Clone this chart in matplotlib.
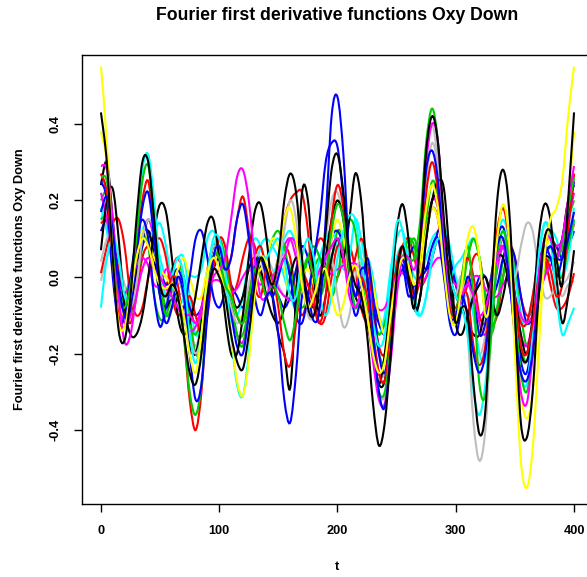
import numpy as np
import matplotlib
matplotlib.use("Agg")
import matplotlib.pyplot as plt
from matplotlib.path import Path
from matplotlib.patches import PathPatch

plt.rcParams['font.family'] = ['Liberation Sans', 'DejaVu Sans']

# t grid of the Fourier derivative curves (values read every 5 units)
t = np.arange(0, 401, 5)

black1 = [0.43, 0.30, 0.05, -0.14, -0.165, -0.05, 0.15, 0.30, 0.30, 0.15, -0.02, -0.05, -0.02, -0.05, -0.15, -0.25, -0.28,
          -0.20, -0.05, 0.02, 0.00, -0.05, -0.15, -0.22, -0.24, -0.15, -0.02, 0.05, 0.02, -0.02, 0.05, 0.20, 0.27, 0.22,
          0.05, -0.08, -0.10, -0.02, 0.12, 0.28, 0.32, 0.22, 0.05, -0.02, -0.05, -0.15, -0.33, -0.44, -0.38, -0.20, 0.00,
          0.08, 0.00, -0.08, 0.10, 0.33, 0.42, 0.35, 0.15, -0.02, -0.12, -0.08, -0.10, -0.28, -0.41, -0.35, -0.05, 0.20,
          0.28, 0.18, -0.10, -0.38, -0.42, -0.30, -0.05, 0.10, 0.12, 0.05, -0.02, 0.20, 0.43]
black2 = [0.07, 0.20, 0.23, 0.10, -0.08, -0.15, -0.15, -0.10, 0.00, 0.12, 0.19, 0.17, 0.05, -0.10, -0.15, -0.12, -0.05,
          0.05, 0.14, 0.15, 0.05, -0.10, -0.20, -0.20, -0.10, 0.05, 0.17, 0.19, 0.10, -0.05, -0.15, -0.20, -0.29, -0.05,
          0.22, 0.20, 0.00, -0.10, -0.05, 0.05, 0.10, 0.05, 0.15, 0.27, 0.20, 0.00, -0.20, -0.28, -0.20, -0.05, 0.12,
          0.19, 0.10, -0.08, -0.05, 0.10, 0.20, 0.25, 0.23, 0.05, -0.12, -0.15, -0.10, -0.05, -0.02, 0.00, -0.05, -0.10,
          -0.05, 0.02, -0.05, -0.15, -0.20, -0.10, 0.10, 0.19, 0.15, 0.00, -0.12, -0.05, 0.07]
black3 = [0.24, 0.30, 0.15, -0.02, -0.10, -0.08, 0.02, 0.10, 0.12, 0.05, -0.05, -0.08, -0.05, -0.06, -0.10, -0.18, -0.20,
          -0.12, 0.00, 0.08, 0.05, -0.02, -0.05, -0.08, -0.05, 0.02, 0.05, 0.02, -0.05, -0.10, -0.12, -0.08, 0.00, 0.05,
          0.02, -0.05, -0.08, -0.05, 0.05, 0.15, 0.20, 0.15, 0.02, -0.05, -0.08, -0.12, -0.20, -0.28, -0.27, -0.15, 0.00,
          0.05, 0.00, -0.08, -0.05, 0.10, 0.20, 0.20, 0.10, 0.00, -0.05, -0.08, -0.12, -0.15, -0.15, -0.08, 0.00, 0.05,
          0.05, -0.02, -0.10, -0.20, -0.22, -0.15, -0.02, 0.05, 0.05, 0.05, 0.10, 0.20, 0.24]
red1 = [0.27, 0.22, 0.05, -0.10, -0.13, -0.05, 0.08, 0.20, 0.25, 0.12, -0.02, -0.05, 0.00, -0.02, -0.15, -0.32, -0.40,
        -0.30, -0.08, 0.05, 0.05, 0.02, 0.05, 0.15, 0.21, 0.12, -0.02, -0.05, 0.02, 0.00, -0.08, -0.20, -0.23, -0.12,
        0.00, -0.02, -0.08, -0.12, -0.05, 0.15, 0.24, 0.18, 0.02, -0.05, 0.00, -0.05, -0.15, -0.25, -0.27, -0.15, 0.00,
        0.05, 0.00, -0.05, 0.05, 0.22, 0.30, 0.22, 0.05, -0.08, -0.10, -0.05, -0.05, -0.18, -0.23, -0.18, -0.02, 0.12,
        0.18, 0.10, -0.05, -0.18, -0.20, -0.12, 0.00, 0.05, 0.02, -0.05, -0.02, 0.12, 0.27]
red2 = [0.01, 0.08, 0.14, 0.15, 0.08, -0.05, -0.10, -0.08, 0.00, 0.08, 0.10, 0.05, -0.05, -0.10, -0.08, -0.05, -0.10,
        -0.15, -0.10, 0.02, 0.10, 0.08, -0.02, -0.10, -0.12, -0.05, 0.05, 0.08, 0.02, -0.02, 0.05, 0.15, 0.20, 0.22,
        0.22, 0.12, -0.05, -0.12, -0.10, 0.00, 0.08, 0.05, -0.02, 0.05, 0.10, 0.05, -0.08, -0.18, -0.20, -0.10, 0.03,
        0.08, 0.02, -0.05, 0.00, 0.12, 0.18, 0.15, 0.02, -0.08, -0.10, 0.00, 0.05, 0.00, -0.10, -0.12, -0.05, 0.05,
        0.10, 0.05, -0.05, -0.12, -0.12, -0.05, 0.05, 0.05, -0.02, -0.08, -0.08, -0.05, 0.01]
red3 = [0.14, 0.15, 0.12, 0.02, -0.08, -0.12, -0.05, 0.05, 0.08, 0.05,
        0.00, -0.02, 0.02, 0.05, 0.00, -0.08, -0.12, -0.08, 0.02, 0.08,
        0.05, -0.02, -0.05, -0.02, 0.05, 0.10, 0.08, 0.00, -0.05, -0.02,
        0.05, 0.08, 0.05, -0.05, -0.10, -0.05, 0.05, 0.10, 0.08, 0.02,
        0.00, 0.05, 0.08, 0.02, -0.08, -0.12, -0.10, -0.12, -0.15, -0.10,
        0.00, 0.08, 0.10, 0.05, -0.02, 0.00, 0.05, 0.10, 0.08, 0.02,
        -0.02, -0.05, -0.02, 0.05, 0.05, -0.05, -0.12, -0.10, 0.00, 0.08,
        0.05, -0.05, -0.10, -0.08, 0.02, 0.08, 0.10, 0.08, 0.05, 0.08, 0.14]
green1 = [0.26, 0.25, 0.10, -0.05, -0.08, -0.02, 0.10, 0.25, 0.29, 0.15, -0.02, -0.10, -0.08, -0.05, -0.15, -0.30, -0.36,
          -0.28, -0.08, 0.05, 0.05, -0.02, -0.05, -0.10, -0.12, -0.05, 0.02, 0.00, -0.05, -0.02, -0.05, -0.12, -0.165,
          -0.10, 0.00, 0.05, 0.00, -0.05, 0.00, 0.12, 0.19, 0.15, 0.02, -0.08, -0.05, -0.10, -0.20, -0.30, -0.30, -0.18,
          -0.02, 0.05, 0.05, 0.05, 0.15, 0.35, 0.44, 0.35, 0.12, -0.05, -0.10, 0.00, 0.08, -0.05, -0.28, -0.31, -0.15,
          0.05, 0.12, 0.05, -0.10, -0.25, -0.30, -0.20, -0.05, 0.05, 0.08, 0.05, 0.08, 0.18, 0.26]
green2 = [0.15, 0.15, 0.05, -0.05, -0.05, 0.00, 0.05, 0.10, 0.08, -0.05, -0.11, -0.10, -0.05, 0.00, -0.05, -0.12, -0.15,
          -0.10, 0.00, 0.05, 0.10, 0.05, -0.05, -0.15, -0.18, -0.10, 0.00, 0.05, 0.05, 0.10, 0.12, 0.08, 0.00, -0.05,
          -0.02, 0.05, 0.08, 0.05, 0.00, -0.05, 0.00, 0.10, 0.15, 0.12, 0.00, -0.08, -0.10, -0.15, -0.12, -0.05, 0.02,
          0.05, 0.10, 0.08, 0.00, 0.15, 0.25, 0.20, 0.02, -0.10, -0.12, -0.05, 0.05, 0.10, 0.05, -0.05, -0.10, -0.08,
          0.00, 0.05, -0.05, -0.18, -0.22, -0.15, -0.05, 0.00, 0.05, 0.02, 0.00, 0.08, 0.15]
green3 = [0.20, 0.22, 0.12, -0.02, -0.10, -0.10, -0.02, 0.08, 0.15, 0.10,
          0.00, -0.08, -0.05, 0.02, 0.00, -0.10, -0.20, -0.18, -0.05, 0.05,
          0.08, 0.02, -0.08, -0.15, -0.15, -0.08, 0.02, 0.05, 0.02, 0.00,
          0.02, 0.05, 0.02, -0.05, -0.08, -0.05, 0.02, 0.05, 0.02, 0.05,
          0.12, 0.10, 0.00, -0.08, -0.05, -0.02, -0.10, -0.20, -0.22, -0.12,
          0.00, 0.05, 0.08, 0.10, 0.05, 0.10, 0.20, 0.18, 0.05, -0.05,
          -0.08, -0.02, 0.05, 0.10, 0.05, -0.10, -0.15, -0.08, 0.05, 0.08,
          0.02, -0.10, -0.18, -0.15, -0.05, 0.02, 0.05, 0.05, 0.08, 0.15, 0.20]
blue1 = [0.17, 0.21, 0.12, -0.02, -0.10, -0.08, 0.05, 0.18, 0.22, 0.10, -0.05, -0.12, -0.08, 0.00, -0.05, -0.20, -0.32,
         -0.28, -0.10, 0.05, 0.08, 0.02, 0.05, 0.15, 0.19, 0.10, -0.05, -0.10, -0.05, -0.05, -0.15, -0.32, -0.38, -0.25,
         -0.05, -0.05, -0.115, -0.08, 0.15, 0.42, 0.47, 0.32, 0.05, -0.05, 0.02, 0.00, -0.15, -0.30, -0.34, -0.20, 0.00,
         0.05, -0.02, -0.05, 0.10, 0.28, 0.33, 0.25, 0.05, -0.10, -0.10, -0.05, -0.10, -0.20, -0.25, -0.20, -0.05, 0.08,
         0.10, 0.00, -0.15, -0.25, -0.27, -0.20, -0.05, 0.05, 0.08, 0.05, 0.05, 0.10, 0.17]
blue2 = [0.25, 0.20, 0.00, -0.12, -0.10, 0.00, 0.10, 0.15, 0.10, -0.05, -0.13, -0.08, -0.02, -0.05, -0.08, 0.00, 0.10,
         0.12, 0.05, -0.05, -0.08, -0.05, -0.10, -0.18, -0.20, -0.10, 0.02, 0.05, 0.00, -0.05, 0.00, 0.05, 0.00, -0.10,
         -0.12, -0.05, 0.05, 0.15, 0.30, 0.35, 0.34, 0.20, 0.00, -0.10, -0.05, 0.05, -0.05, -0.20, -0.25, -0.15, 0.00,
         0.03, -0.05, -0.02, 0.00, 0.02, 0.08, 0.10, 0.00, -0.12, -0.15, -0.08, 0.00, -0.05, -0.15, -0.12, 0.00, 0.10,
         0.13, 0.05, -0.10, -0.22, -0.25, -0.15, 0.02, 0.08, 0.05, 0.00, 0.05, 0.15, 0.25]
blue3 = [0.12, 0.15, 0.10, 0.00, -0.06, -0.05, 0.02, 0.08, 0.12, 0.08,
         0.02, -0.02, 0.00, 0.02, -0.02, -0.08, -0.10, -0.08, -0.02, 0.02,
         0.05, 0.02, -0.02, -0.05, -0.08, -0.05, 0.02, 0.05, 0.02, -0.02,
         -0.05, -0.08, -0.05, 0.02, 0.08, 0.05, -0.02, -0.05, 0.00, 0.10,
         0.12, 0.08, 0.00, -0.05, -0.02, 0.00, -0.05, -0.12, -0.15, -0.10,
         -0.02, 0.02, 0.05, 0.08, 0.05, 0.02, 0.05, 0.12, 0.12, 0.05,
         -0.02, -0.08, -0.10, -0.05, 0.00, 0.00, -0.05, -0.02, 0.05, 0.08,
         0.05, -0.05, -0.12, -0.10, -0.02, 0.05, 0.08, 0.08, 0.05, 0.08, 0.12]
cyan1 = [-0.08, 0.05, 0.10, 0.05, -0.05, -0.05, 0.10, 0.28, 0.32, 0.20, 0.02, -0.05, 0.00, 0.05, 0.00, -0.15, -0.225,
         -0.15, 0.00, 0.10, 0.10, 0.02, -0.15, -0.28, -0.31, -0.20, -0.02, 0.05, 0.05, 0.08, 0.10, 0.05, -0.05, -0.05,
         0.05, 0.10, 0.05, -0.05, -0.10, -0.05, 0.05, 0.12, 0.16, 0.15, 0.05, -0.05, -0.12, -0.18, -0.15, 0.00, 0.14,
         0.12, 0.00, -0.08, -0.10, -0.05, 0.05, 0.10, 0.08, 0.00, -0.05, -0.08, -0.15, -0.30, -0.36, -0.28, -0.10, 0.05,
         0.12, 0.05, -0.10, -0.25, -0.28, -0.15, 0.05, 0.14, 0.10, -0.05, -0.15, -0.12, -0.08]
cyan2 = [0.15, 0.18, 0.10, -0.02, -0.08, -0.05, 0.05, 0.12, 0.10, 0.12, 0.14, 0.08, -0.02, -0.08, -0.05, 0.00, 0.00,
         0.02, 0.10, 0.12, 0.08, 0.00, -0.08, -0.10, -0.05, 0.05, 0.10, 0.08, 0.02, 0.00, 0.05, 0.10, 0.12, 0.08, 0.00,
         -0.05, -0.02, 0.05, 0.10, 0.12, 0.08, 0.02, 0.05, 0.15, 0.10, 0.00, -0.10, -0.15, -0.10, 0.02, 0.10, 0.12, 0.05,
         -0.05, -0.10, -0.05, 0.05, 0.10, 0.05, 0.00, 0.03, 0.05, 0.08, 0.10, 0.05, -0.05, 0.00, 0.10, 0.15, 0.10, 0.00,
         -0.10, -0.12, -0.05, 0.05, 0.14, 0.12, 0.05, 0.00, 0.05, 0.15]
cyan3 = [0.18, 0.12, 0.02, -0.05, -0.08, -0.03, 0.05, 0.12, 0.15, 0.12,
         0.05, 0.00, 0.02, 0.05, 0.05, -0.05, -0.15, -0.12, 0.00, 0.08,
         0.10, 0.05, -0.05, -0.15, -0.18, -0.10, 0.00, 0.08, 0.10, 0.08,
         0.05, 0.00, -0.05, -0.08, -0.02, 0.05, 0.08, 0.05, 0.00, 0.05,
         0.10, 0.08, 0.02, -0.02, 0.00, 0.05, 0.00, -0.10, -0.12, -0.05,
         0.05, 0.08, 0.05, 0.00, 0.00, 0.05, 0.10, 0.12, 0.13, 0.08,
         0.00, -0.05, -0.05, -0.10, -0.20, -0.22, -0.12, 0.02, 0.08, 0.05,
         -0.05, -0.18, -0.22, -0.15, -0.02, 0.08, 0.12, 0.10, 0.05, 0.10, 0.18]
magenta1 = [0.29, 0.28, 0.15, -0.05, -0.17, -0.15, -0.05, 0.02, 0.05, 0.02, 0.00, -0.03, -0.05, -0.08, -0.10, -0.10,
            -0.12, -0.10, -0.05, 0.00, 0.02, 0.05, 0.15, 0.26, 0.28, 0.20, 0.05, -0.05, -0.05, 0.00, 0.02, 0.05, 0.10,
            0.08, -0.02, -0.08, -0.05, 0.00, 0.05, 0.08, 0.10, 0.05, -0.05, -0.08, -0.05, -0.10, -0.22, -0.32, -0.33,
            -0.22, -0.05, 0.05, 0.05, 0.02, 0.10, 0.30, 0.40, 0.35, 0.12, -0.05, -0.10, -0.05, -0.02, -0.05, -0.10, -0.08,
            -0.02, 0.05, 0.08, 0.00, -0.15, -0.30, -0.33, -0.20, 0.00, 0.10, 0.10, 0.05, 0.10, 0.20, 0.29]
magenta2 = [0.22, 0.15, 0.05, -0.02, -0.04, -0.02, 0.03, 0.05, 0.03, -0.02, -0.02, 0.02, 0.00, -0.05, -0.10, -0.14,
            -0.13, -0.08, -0.03, -0.01, -0.01, -0.03, -0.04, -0.03, 0.00, 0.02, 0.00, -0.02, 0.00, 0.00, -0.03, -0.05,
            -0.06, -0.05, -0.03, -0.02, -0.01, -0.01, 0.00, 0.01, 0.02, 0.03, 0.035, 0.035, 0.02, -0.02, -0.06, -0.085,
            -0.08, -0.04, 0.00, 0.01, -0.01, -0.02, -0.02, 0.00, 0.03, 0.05, 0.04, 0.00, -0.02, -0.03, -0.02, 0.00, 0.00,
            -0.03, -0.05, -0.05, -0.02, 0.00, -0.05, -0.10, -0.12, -0.10, -0.05, 0.00, 0.03, 0.05, 0.08, 0.15, 0.22]
magenta3 = [0.27, 0.22, 0.08, -0.05, -0.12, -0.10, 0.00, 0.10, 0.15, 0.10,
            0.00, -0.05, -0.03, 0.00, -0.05, -0.15, -0.20, -0.15, -0.02, 0.05,
            0.05, 0.00, -0.08, -0.15, -0.17, -0.10, 0.00, 0.05, 0.02, -0.02,
            0.02, 0.08, 0.10, 0.05, -0.02, -0.05, -0.02, 0.02, 0.05, 0.08,
            0.10, 0.08, 0.02, -0.02, 0.00, -0.05, -0.15, -0.25, -0.27, -0.15,
            0.00, 0.05, 0.02, -0.02, 0.02, 0.12, 0.20, 0.18, 0.05, -0.05,
            -0.08, -0.05, -0.02, -0.05, -0.12, -0.15, -0.08, 0.02, 0.08, 0.05,
            -0.05, -0.15, -0.18, -0.12, -0.02, 0.05, 0.08, 0.08, 0.10, 0.20, 0.27]
yellow1 = [0.55, 0.35, 0.05, -0.12, -0.13, -0.05, 0.05, 0.10, 0.08, 0.02, -0.02, -0.03, -0.02, -0.05, -0.10, -0.20,
           -0.25, -0.15, 0.00, 0.05, 0.02, -0.05, -0.15, -0.27, -0.31, -0.22, -0.05, 0.05, 0.03, -0.02, 0.05, 0.15, 0.18,
           0.10, -0.02, -0.08, -0.05, 0.00, 0.02, -0.05, -0.10, -0.07, 0.00, 0.03, -0.02, -0.10, -0.20, -0.25, -0.22,
           -0.10, 0.00, 0.05, 0.03, -0.02, 0.05, 0.18, 0.24, 0.18, 0.02, -0.10, -0.12, -0.02, 0.10, 0.13, 0.05, -0.10,
           -0.05, 0.10, 0.19, 0.10, -0.20, -0.48, -0.55, -0.45, -0.20, 0.05, 0.15, 0.18, 0.25, 0.42, 0.55]
yellow2 = [0.38, 0.30, 0.10, -0.05, -0.10, -0.05, 0.05, 0.12, 0.10, 0.05, 0.02, 0.00, -0.02, 0.02, 0.05, 0.00, -0.05,
           -0.05, 0.02, 0.05, 0.05, 0.00, -0.05, -0.10, -0.10, -0.05, 0.00, 0.02, 0.05, 0.10, 0.08, 0.02, -0.05, -0.05,
           0.00, 0.02, -0.02, -0.05, 0.00, 0.10, 0.15, 0.10, 0.00, -0.05, 0.02, 0.05, -0.02, -0.10, -0.15, -0.10, 0.00,
           0.05, 0.02, -0.02, 0.02, 0.12, 0.18, 0.15, 0.05, -0.05, -0.10, -0.05, 0.00, -0.05, -0.15, -0.12, 0.00, 0.12,
           0.18, 0.10, -0.10, -0.30, -0.37, -0.30, -0.10, 0.05, 0.10, 0.05, 0.05, 0.20, 0.38]
gray1 = [0.04, 0.10, 0.12, 0.05, -0.05, -0.08, -0.02, 0.10, 0.15, 0.12, 0.02, -0.05, -0.05, 0.00, -0.05, -0.15, -0.20,
         -0.15, 0.00, 0.08, 0.05, -0.02, -0.08, -0.12, -0.10, -0.02, 0.05, 0.05, -0.02, -0.05, 0.00, 0.12, 0.20, 0.15,
         0.00, -0.10, -0.10, -0.02, 0.05, 0.05, -0.05, -0.13, -0.10, 0.00, 0.05, -0.02, -0.20, -0.30, -0.31, -0.18,
         0.00, 0.05, -0.02, -0.05, 0.12, 0.35, 0.40, 0.30, 0.10, -0.05, -0.05, 0.00, -0.15, -0.38, -0.48, -0.40, -0.15,
         0.05, 0.10, 0.05, 0.00, 0.08, 0.14, 0.12, 0.02, -0.05, -0.05, -0.02, -0.02, 0.00, 0.04]
gray2 = [-0.01, 0.05, 0.08, 0.05, -0.02, -0.05, 0.00, 0.08, 0.10, 0.05, 0.00, -0.05, -0.08, -0.05, -0.05, -0.12, -0.18,
         -0.12, 0.00, 0.08, 0.08, 0.02, -0.05, -0.10, -0.12, -0.05, 0.02, 0.05, 0.05, 0.02, -0.02, -0.05, -0.05, 0.00,
         0.02, -0.02, -0.05, 0.00, 0.10, 0.20, 0.22, 0.15, 0.02, -0.05, -0.02, -0.05, -0.15, -0.25, -0.25, -0.15, -0.02,
         0.02, 0.00, -0.05, 0.05, 0.25, 0.35, 0.28, 0.08, -0.08, -0.12, -0.05, 0.00, -0.10, -0.20, -0.15, -0.02, 0.08,
         0.10, 0.05, -0.08, -0.20, -0.22, -0.12, 0.00, 0.02, 0.00, -0.02, -0.05, -0.02, -0.01]

curves = [gray2, cyan3, red3, green3, blue3, magenta3, cyan2, green2, red2, black3, magenta2, yellow2, gray1, blue2,
          black2, cyan1, red1, green1, magenta1, blue1, yellow1, black1]
colors = ["#BEBEBE", "#00FFFF", "#FF0000", "#00CD00", "#0000FF", "#FF00FF", "#00FFFF", "#00CD00", "#FF0000",
          "#000000", "#FF00FF", "#FFFF00", "#BEBEBE", "#0000FF", "#000000", "#00FFFF", "#FF0000", "#00CD00",
          "#FF00FF", "#0000FF", "#FFFF00", "#000000"]


def smooth_path(x, y):
    # draw the read points as one smooth bezier line (Catmull-Rom style)
    x = np.asarray(x, float)
    y = np.asarray(y, float)
    pts = np.column_stack([x, y])
    ext = np.vstack([pts[0], pts, pts[-1]])
    verts = [pts[0]]
    codes = [Path.MOVETO]
    for i in range(len(pts) - 1):
        p0, p1, p2, p3 = ext[i], ext[i + 1], ext[i + 2], ext[i + 3]
        verts += [p1 + (p2 - p0) / 6, p2 - (p3 - p1) / 6, p2]
        codes += [Path.CURVE4] * 3
    return Path(verts, codes)


fig = plt.figure(figsize=(5.87, 5.77), dpi=100)
ax = fig.add_axes([0.1397, 0.1265, 0.8705, 0.7782])

for y, c in zip(curves, colors):
    ax.add_patch(PathPatch(smooth_path(t, y), fill=False, edgecolor=c, lw=1.5))

ax.set_xlim(-16, 416)
ax.set_ylim(-0.593, 0.580)
ax.set_xticks([0, 100, 200, 300, 400])
ax.set_yticks([-0.4, -0.2, 0.0, 0.2, 0.4])
ax.set_yticklabels(["-0.4", "-0.2", "0.0", "0.2", "0.4"])
ax.tick_params(length=6, width=1, pad=9, labelsize=9.2)
for lab in ax.get_xticklabels() + ax.get_yticklabels():
    lab.set_fontweight("bold")
for lab in ax.get_yticklabels():
    lab.set_rotation(90)
    lab.set_va("center")
for s in ax.spines.values():
    s.set_linewidth(1)

ax.set_xlabel("t", fontsize=9.2, fontweight="bold")
ax.xaxis.set_label_coords(0.5, -0.128)
ax.set_ylabel("Fourier first derivative functions Oxy Down", fontsize=9.2, fontweight="bold")
ax.yaxis.set_label_coords(-0.11, 0.5)
fig.text(0.575, 0.974, "Fourier first derivative functions Oxy Down", ha="center", va="center",
         fontsize=12.7, fontweight="bold")

fig.savefig("out.png", dpi=100)
